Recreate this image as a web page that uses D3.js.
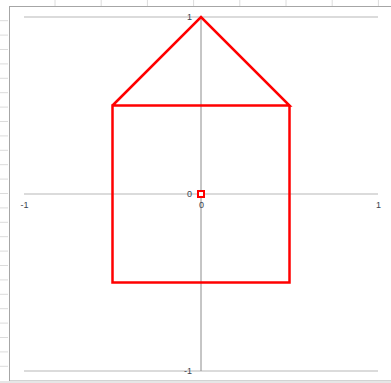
<!DOCTYPE html>
<html>
<head>
<meta charset="utf-8">
<script src="https://cdn.jsdelivr.net/npm/d3@7"></script>
<style>
  html, body { margin: 0; padding: 0; background: #ffffff; }
  svg { display: block; }
</style>
</head>
<body>
<svg id="chart" width="391" height="383"></svg>
<script>
// ---- data ----
const houseX = [-0.5, 0, 0.5, -0.5, -0.5, 0.5, 0.5];
const houseY = [0.5, 1, 0.5, 0.5, -0.5, -0.5, 0.5];
const originX = [0];
const originY = [0];
const xTicks = [-1, 0, 1];
const yTicks = [-1, 0, 1];

const svg = d3.select("#chart");
const W = 391, H = 383;

// ---- spreadsheet background ----
const bg = svg.append("g");
const colStep = 46.2, colStart = 55;
d3.range(0, 8).forEach(i => {
  const x = colStart + i * colStep;
  bg.append("line").attr("x1", x).attr("x2", x).attr("y1", 0).attr("y2", 7)
    .attr("stroke", "#dcdcdc").attr("stroke-width", 1);
});
const rowStep = 14.4, rowStart = 20.7;
d3.range(0, 26).forEach(i => {
  const y = rowStart + i * rowStep;
  if (y < 380) bg.append("line").attr("x1", 0).attr("x2", 8).attr("y1", y).attr("y2", y)
    .attr("stroke", "#dcdcdc").attr("stroke-width", 1);
});
// chart area border
bg.append("rect").attr("x", 9.5).attr("y", 6.5).attr("width", 390).attr("height", 374.5)
  .attr("fill", "#ffffff").attr("stroke", "#a6a6a6").attr("stroke-width", 1);
bg.append("rect").attr("x", 0).attr("y", 381).attr("width", W).attr("height", 2)
  .attr("fill", "#e6e6e6");

// ---- scales ----
const x = d3.scaleLinear().domain([-1, 1]).range([24, 378]);
const y = d3.scaleLinear().domain([-1, 1]).range([371, 17]);

// horizontal gridlines
svg.append("g").selectAll("line").data(yTicks).join("line")
  .attr("x1", x(-1)).attr("x2", x(1))
  .attr("y1", d => y(d)).attr("y2", d => y(d))
  .attr("stroke", "#cfcfcf").attr("stroke-width", 1.4);

// vertical axis line
svg.append("line").attr("x1", x(0)).attr("x2", x(0)).attr("y1", y(1)).attr("y2", y(-1))
  .attr("stroke", "#8c8c8c").attr("stroke-width", 1);

// axes labels
const xAxis = svg.append("g").attr("transform", `translate(0,${y(0)})`)
  .call(d3.axisBottom(x).tickValues(xTicks).tickSize(0).tickPadding(8).tickFormat(d3.format("d")));
const yAxis = svg.append("g").attr("transform", `translate(${x(0)},0)`)
  .call(d3.axisLeft(y).tickValues(yTicks).tickSize(0).tickPadding(9).tickFormat(d3.format("d")));
[xAxis, yAxis].forEach(a => {
  a.select(".domain").remove();
  a.selectAll("text").attr("font-family", "Liberation Sans, Arial, sans-serif")
    .attr("font-size", 9).attr("fill", "#3a4350");
});
xAxis.selectAll("text").text(d => d === -1 ? "-1" : d);
yAxis.selectAll("text").text(d => d === -1 ? "-1" : d);

// house line
const pts = houseX.map((v, i) => [v, houseY[i]]);
svg.append("path").datum(pts)
  .attr("d", d3.line().x(d => x(d[0])).y(d => y(d[1])))
  .attr("fill", "none").attr("stroke", "#ff0000").attr("stroke-width", 2.5)
  .attr("stroke-linejoin", "miter");

// origin marker
svg.append("g").selectAll("rect").data(originX.map((v, i) => [v, originY[i]])).join("rect")
  .attr("x", d => x(d[0]) - 3).attr("y", d => y(d[1]) - 3)
  .attr("width", 6).attr("height", 6)
  .attr("fill", "#ffffff").attr("stroke", "#ff0000").attr("stroke-width", 2);
</script>
</body>
</html>
